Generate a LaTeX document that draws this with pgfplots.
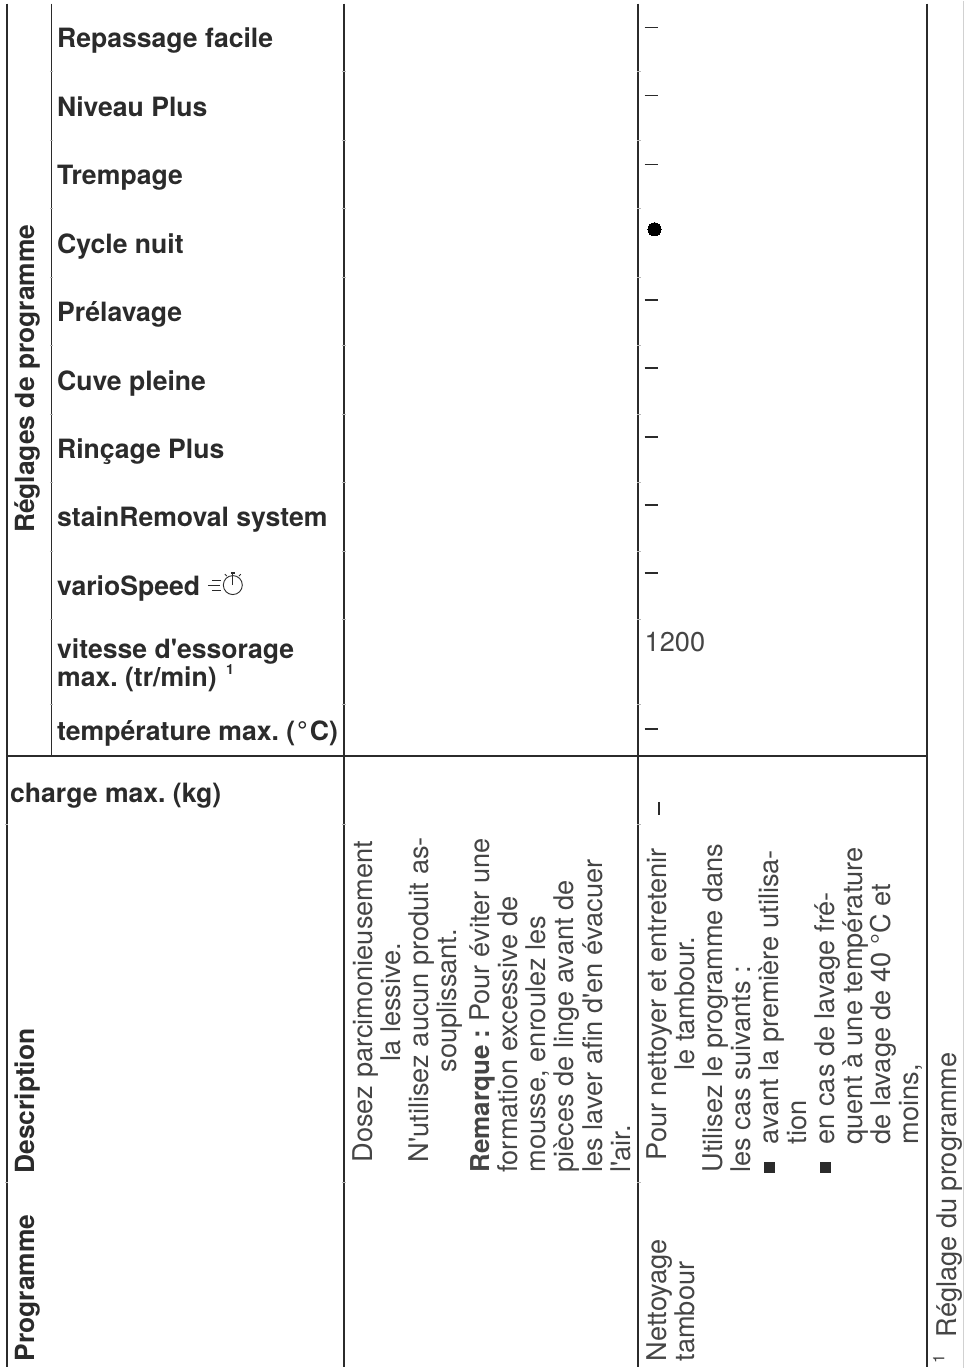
\documentclass[border=0pt]{standalone}
\usepackage{pgfplots}
\pgfplotsset{compat=1.18}
\usepackage{fontspec}
\setmainfont[Ligatures=TeXOff]{TeX Gyre Heros}
\frenchspacing
\definecolor{ink}{HTML}{2B2B2B}
\definecolor{lite}{HTML}{454545}
\definecolor{notch}{HTML}{B8B8B8}
\newcommand{\bh}[3]{\node[anchor=base west,inner sep=0pt,text=ink] at (axis cs:#1,#2) {\fontsize{26.6}{30}\selectfont\bfseries #3};}
\newcommand{\bv}[3]{\node[anchor=base west,rotate=90,inner sep=0pt,text=ink] at (axis cs:#1,#2) {\fontsize{26.4}{30}\selectfont\bfseries #3};}
\newcommand{\tv}[3]{\node[anchor=base west,rotate=90,inner sep=0pt,text=lite] at (axis cs:#1,#2) {\fontsize{27.2}{30}\selectfont #3};}
\begin{document}
\begin{tikzpicture}
\begin{axis}[
  scale only axis, width=965pt, height=1368pt,
  xmin=0, xmax=965, ymin=0, ymax=1368, y dir=reverse,
  hide axis, clip=false, unbounded coords=jump,
]
\path (axis cs:0,0) rectangle (axis cs:965,1368);
% vertical and horizontal rules
\addplot[draw=ink, line width=1.9pt] coordinates {(6.7,3) (6.7,1367)};
\addplot[draw=ink, line width=1.5pt] coordinates {(51.3,3) (51.3,756)};
\addplot[draw=ink, line width=1.7pt] coordinates {(344,3) (344,1367)};
\addplot[draw=ink, line width=1.7pt] coordinates {(638.8,3) (638.8,1367)};
\addplot[draw=ink, line width=1.9pt] coordinates {(928,3) (928,1367)};
\addplot[draw=ink, line width=1.5pt] coordinates {(6.7,756) (928,756)};
\addplot[draw=black!18, line width=1pt] coordinates {(964.5,0) (964.5,1368)};
% small breaks of the rules at the row boundaries
\addplot[draw=notch, line width=.5pt] coordinates {
 (50,71)(53,71)(nan,nan)(50,140)(53,140)(nan,nan)(50,208)(53,208)(nan,nan)(50,277)(53,277)(nan,nan)
 (50,345)(53,345)(nan,nan)(50,414)(53,414)(nan,nan)(50,482)(53,482)(nan,nan)(50,551)(53,551)(nan,nan)
 (50,619)(53,619)(nan,nan)(50,704)(53,704)(nan,nan)
 (342.5,71)(346,71)(nan,nan)(342.5,140)(346,140)(nan,nan)(342.5,208)(346,208)(nan,nan)(342.5,277)(346,277)(nan,nan)
 (342.5,345)(346,345)(nan,nan)(342.5,414)(346,414)(nan,nan)(342.5,482)(346,482)(nan,nan)(342.5,551)(346,551)(nan,nan)
 (342.5,619)(346,619)(nan,nan)(342.5,704)(346,704)(nan,nan)(342.5,824)(346,824)(nan,nan)(342.5,1183)(346,1183)(nan,nan)
 (637.5,71)(641,71)(nan,nan)(637.5,140)(641,140)(nan,nan)(637.5,208)(641,208)(nan,nan)(637.5,277)(641,277)(nan,nan)
 (637.5,345)(641,345)(nan,nan)(637.5,414)(641,414)(nan,nan)(637.5,482)(641,482)(nan,nan)(637.5,551)(641,551)(nan,nan)
 (637.5,619)(641,619)(nan,nan)(637.5,704)(641,704)(nan,nan)(637.5,824)(641,824)(nan,nan)(637.5,1183)(641,1183)(nan,nan)
 (5.5,824)(8,824)(nan,nan)(5.5,1183)(8,1183)
};
% column values: dashes and the filled dot
\addplot[draw=ink, line width=1.7pt] coordinates {(645,27) (658,27)};
\addplot[draw=ink, line width=1.7pt] coordinates {(645,95) (658,95)};
\addplot[draw=ink, line width=1.7pt] coordinates {(645,164) (658,164)};
\addplot[draw=ink, line width=1.7pt] coordinates {(645,300) (658,300)};
\addplot[draw=ink, line width=1.7pt] coordinates {(645,368) (658,368)};
\addplot[draw=ink, line width=1.7pt] coordinates {(645,437) (658,437)};
\addplot[draw=ink, line width=1.7pt] coordinates {(645,505) (658,505)};
\addplot[draw=ink, line width=1.7pt] coordinates {(645,573) (658,573)};
\addplot[draw=ink, line width=1.7pt] coordinates {(645,729) (658,729)};
\addplot[draw=ink, line width=1.7pt] coordinates {(659.5,802) (659.5,815)};
\addplot[only marks, mark=*, mark size=6.6pt, mark options={fill=black, draw=black, line width=0pt}] coordinates {(655,229)};
% bullets
\addplot[only marks, mark=square*, mark size=5pt, mark options={fill=ink, draw=ink, line width=.4pt}] coordinates {(769.5,1168) (825.5,1168)};
% row labels
\bh{57}{47}{Repassage facile}
\bh{57}{116}{Niveau Plus}
\bh{57}{184}{Trempage}
\bh{57}{253}{Cycle nuit}
\bh{57}{321}{Prélavage}
\bh{57}{390}{Cuve pleine}
\bh{57}{458}{Rinçage Plus}
\bh{57}{526}{stainRemoval system}
\bh{57}{595}{varioSpeed}
\bh{57}{658}{vitesse d'essorage}
\bh{57}{686}{max. (tr/min)}
\node[anchor=base west,inner sep=0pt,text=ink] at (axis cs:226,674) {\fontsize{14}{16}\selectfont\bfseries 1};
\bh{57}{741}{température max. (\kern2pt°\kern2ptC)}
\bh{10}{803}{charge max. (kg)}
\bv{35}{533}{Réglages de programme}
\bv{35}{1362}{Programme}
\bv{35}{1174}{Description}
% value
\node[anchor=base west,inner sep=0pt,text=lite] at (axis cs:645,651) {\fontsize{27.2}{30}\selectfont 1200};
% vario speed icon
\draw[ink, line width=.9pt] (axis cs:233,585) circle[radius=9.5pt];
\draw[ink, line width=.9pt] (axis cs:233,585) -- (axis cs:233,572);
\draw[ink, line width=1.6pt] (axis cs:231,573) -- (axis cs:235,573);
\draw[ink, line width=.9pt] (axis cs:225,574) -- (axis cs:227,576);
\draw[ink, line width=.9pt] (axis cs:241,574) -- (axis cs:239,576);
\draw[ink, line width=.9pt] (axis cs:212,580) -- (axis cs:221,580);
\draw[ink, line width=.9pt] (axis cs:208,585) -- (axis cs:220,585);
\draw[ink, line width=.9pt] (axis cs:212,590) -- (axis cs:221,590);
% description column 1
\tv{373}{1163}{Dosez parcimonieusement}
\tv{401}{1062}{la lessive.}
\tv{429}{1163}{N'utilisez aucun produit as-}
\tv{457}{1073}{souplissant.}
\node[anchor=base west,rotate=90,inner sep=0pt,text=lite] at (axis cs:490,1173) {\fontsize{27.2}{30}\selectfont{\fontsize{26}{30}\selectfont\bfseries Remarque :} Pour éviter une};
\tv{518}{1173}{formation excessive de}
\tv{546}{1173}{mousse, enroulez les}
\tv{574}{1173}{pièces de linge avant de}
\tv{603}{1173}{les laver afin d'en évacuer}
\tv{631}{1173}{l'air.}
% description column 2
\tv{667}{1161}{Pour nettoyer et entretenir}
\tv{695}{1071}{le tambour.}
\tv{723}{1173}{Utilisez le programme dans}
\tv{751}{1173}{les cas suivants :}
\tv{779}{1145}{avant la première utilisa-}
\tv{807}{1145}{tion}
\tv{835}{1145}{en cas de lavage fré-}
\tv{863}{1145}{quent à une température}
\tv{891}{1145}{de lavage de 40 °C et}
\tv{919}{1145}{moins,}
\tv{667}{1362}{Nettoyage}
\tv{695}{1362}{tambour}
\tv{957}{1338}{Réglage du programme}
\node[anchor=base west,rotate=90,inner sep=0pt,text=lite] at (axis cs:945,1364) {\fontsize{16}{18}\selectfont 1};
\end{axis}
\end{tikzpicture}
\end{document}
